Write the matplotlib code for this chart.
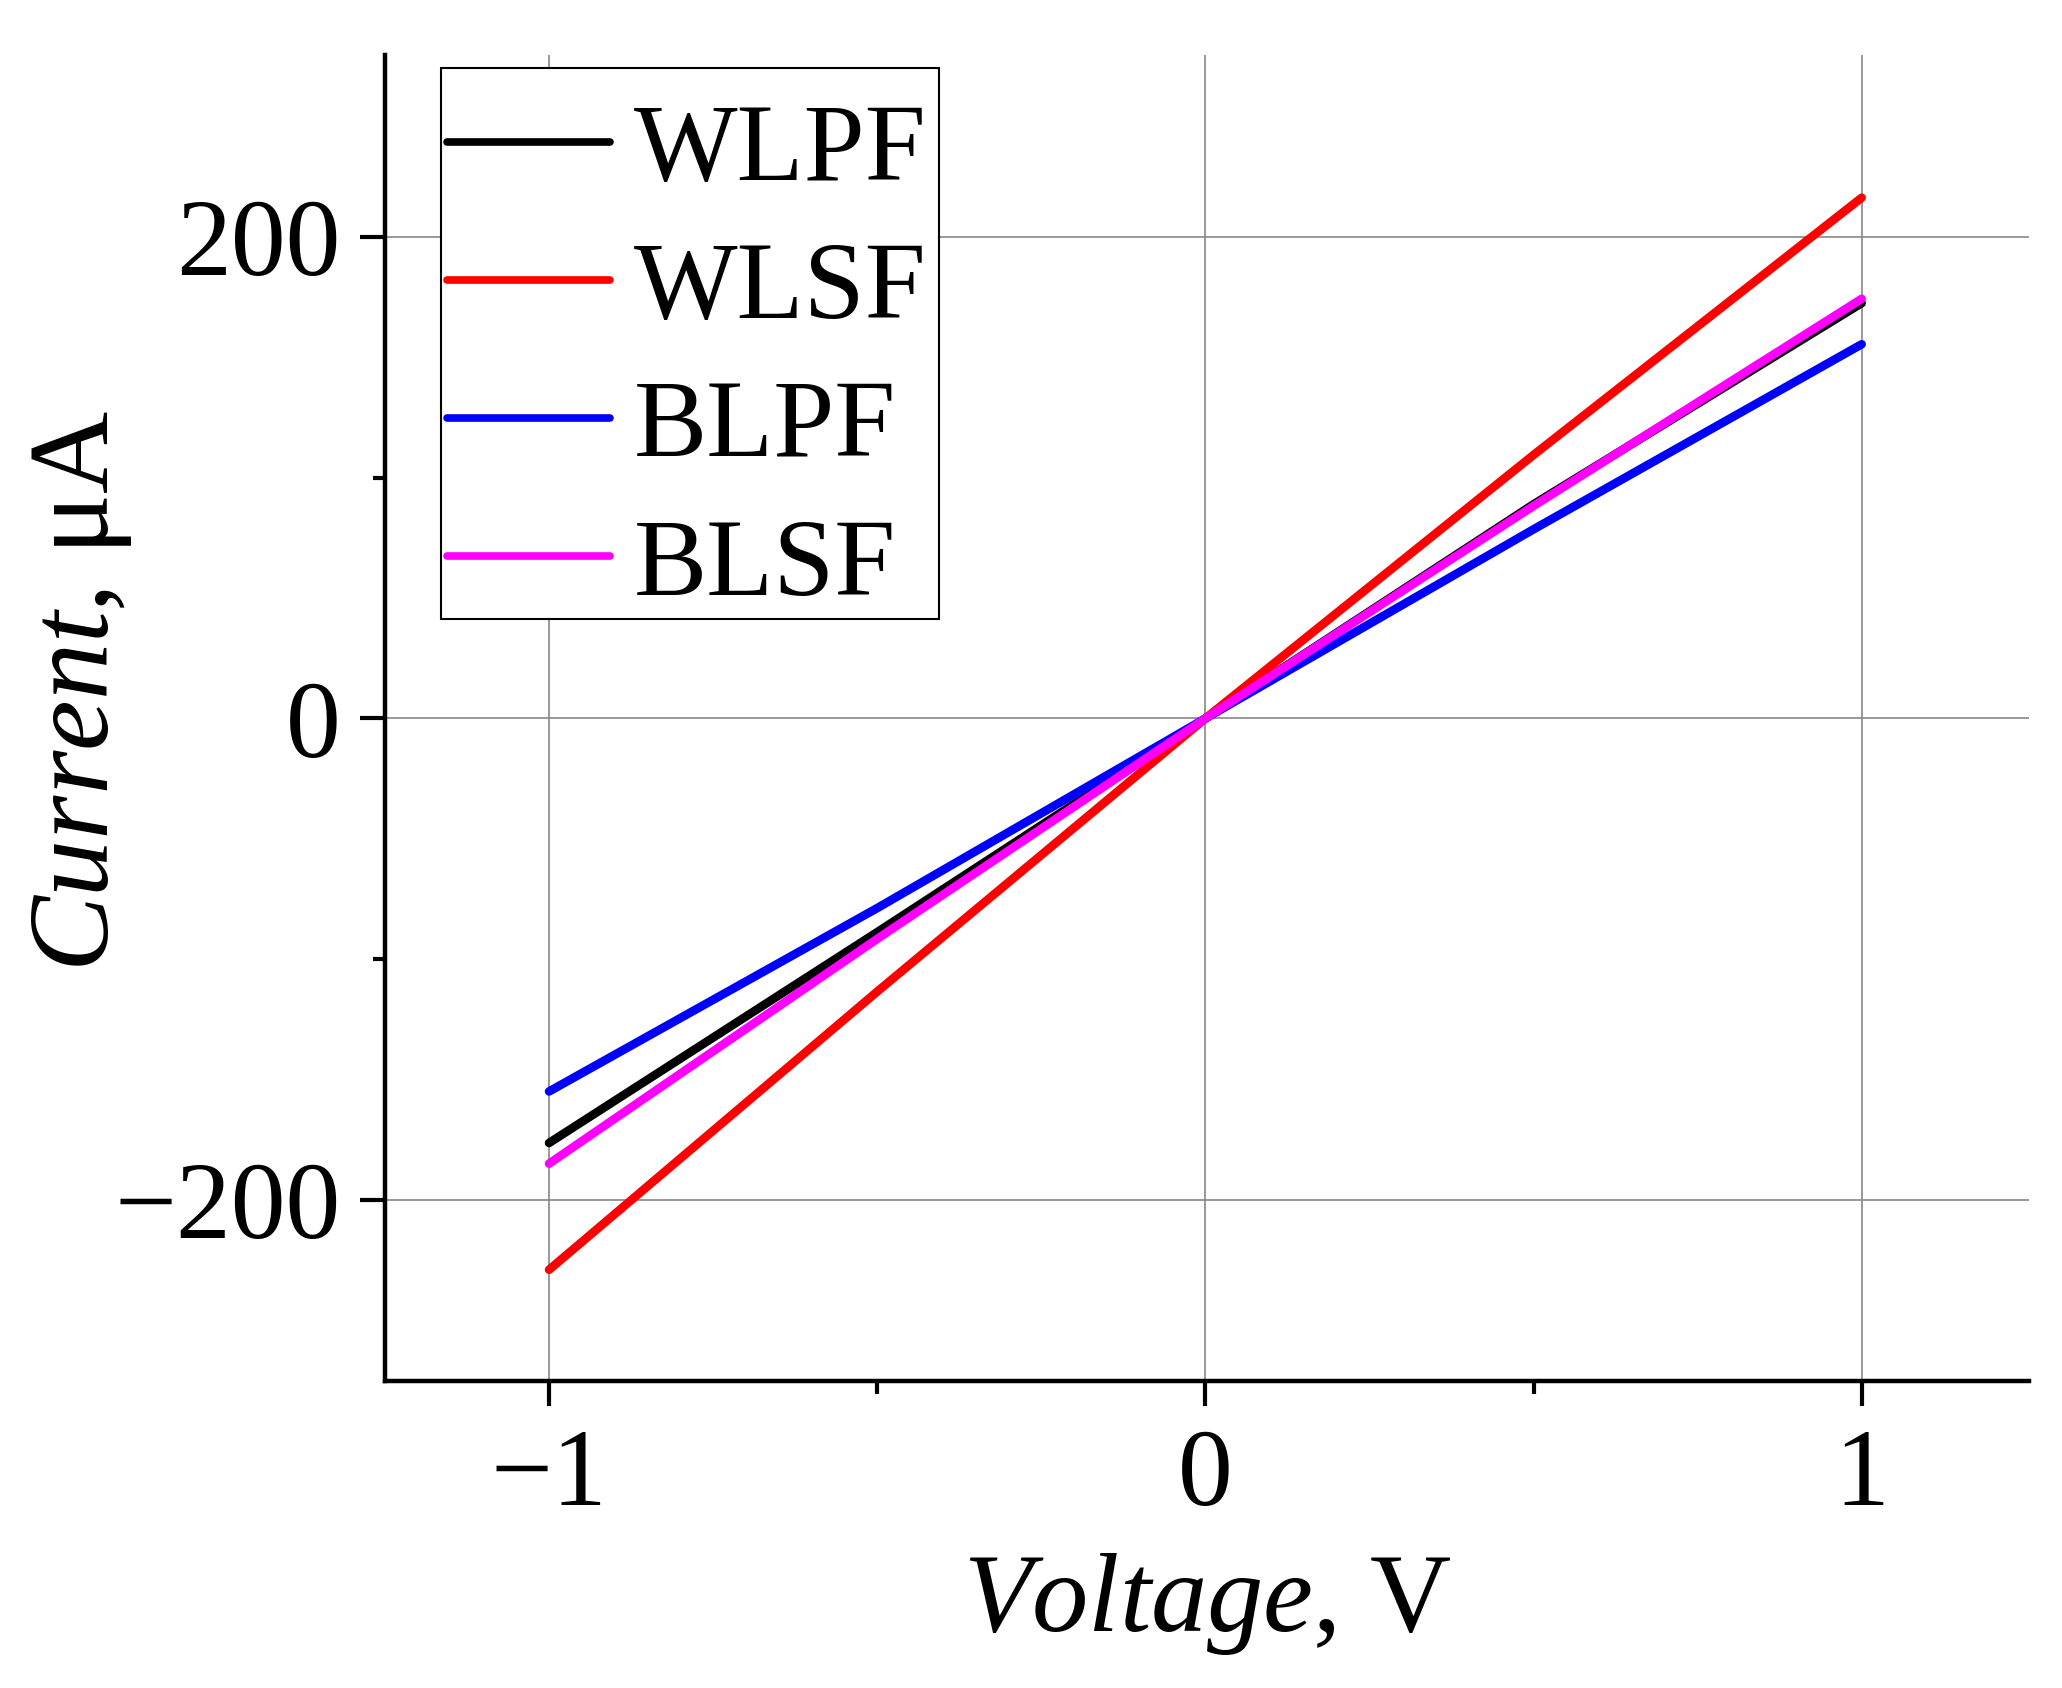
import matplotlib
matplotlib.use("Agg")
import matplotlib.pyplot as plt
from matplotlib.ticker import FixedLocator
from matplotlib.patches import Rectangle

voltage = [-1.0, -0.5, 0.0, 0.5, 1.0]
wlpf = [-176.4, -88.8, 0.0, 89.0, 172.6]
wlsf = [-229.1, -113.5, 0.0, 109.5, 216.4]
blpf = [-155.0, -78.8, 0.0, 78.6, 155.5]
blsf = [-185.0, -91.6, 0.0, 88.3, 174.4]

series_names = ["WLPF", "WLSF", "BLPF", "BLSF"]
series_colors = ["#000000", "#ff0000", "#0000ff", "#ff00ff"]

x_major = [-1, 0, 1]
x_minor = [-0.5, 0.5]
y_major = [-200, 0, 200]
y_minor = [-100, 100]
x_ticklabels = ["\u22121", "0", "1"]
y_ticklabels = ["\u2212200", "0", "200"]

plt.rcParams['font.family'] = ['Liberation Serif', 'DejaVu Serif']
plt.rcParams['mathtext.fontset'] = 'custom'
plt.rcParams['mathtext.rm'] = 'Liberation Serif'
plt.rcParams['mathtext.it'] = 'Liberation Serif:italic'

FS = 79
W, H = 2062, 1688
fig = plt.figure(figsize=(W / 100, H / 100), dpi=100)
ax = fig.add_axes([0.1867, 0.1819, 0.984 - 0.1867, 0.9674 - 0.1819])

for ys, name, c in zip([wlpf, wlsf, blpf, blsf], series_names, series_colors):
    ax.plot(voltage, ys, color=c, lw=6.2, label=name, solid_capstyle='round',
            solid_joinstyle='round', zorder=3)

ax.set_xlim(-1.25, 1.255)
ax.set_ylim(-275.3, 275.7)

ax.xaxis.set_major_locator(FixedLocator(x_major))
ax.xaxis.set_minor_locator(FixedLocator(x_minor))
ax.yaxis.set_major_locator(FixedLocator(y_major))
ax.yaxis.set_minor_locator(FixedLocator(y_minor))
ax.set_xticklabels(x_ticklabels)
ax.set_yticklabels(y_ticklabels)

ax.grid(True, which='major', color='#888888', lw=1.2, zorder=0)

for s in ['top', 'right']:
    ax.spines[s].set_visible(False)
for s in ['left', 'bottom']:
    ax.spines[s].set_linewidth(3.2)

ax.tick_params(which='major', direction='out', length=18, width=3, labelsize=FS)
ax.tick_params(which='minor', direction='out', length=9, width=3)
ax.tick_params(axis='y', which='major', pad=14)
ax.tick_params(axis='x', which='major', pad=16)

ax.set_xlabel(r"$\mathit{Voltage}$, V", fontsize=FS + 2, labelpad=17)
ax.set_ylabel(r"$\mathit{Current}$, μA", fontsize=FS + 3, labelpad=-14)
ax.yaxis.label.set_y(0.52)

# legend frame
frame = Rectangle((441 / W, 1 - 619 / H), 498 / W, 551 / H, transform=fig.transFigure,
                  facecolor='white', edgecolor='black', lw=1.5, zorder=4, clip_on=False)
ax.add_patch(frame)

leg = ax.legend(loc='upper left', bbox_to_anchor=(432 / W, 1 - 88 / H),
                bbox_transform=fig.transFigure, fontsize=FS, frameon=False,
                handlelength=1.48, handletextpad=0.22, labelspacing=0.35,
                borderpad=0.14, borderaxespad=0)
leg.set_zorder(5)
for h in leg.get_lines():
    h.set_linewidth(5.5)

fig.savefig("out.png", dpi=100)
